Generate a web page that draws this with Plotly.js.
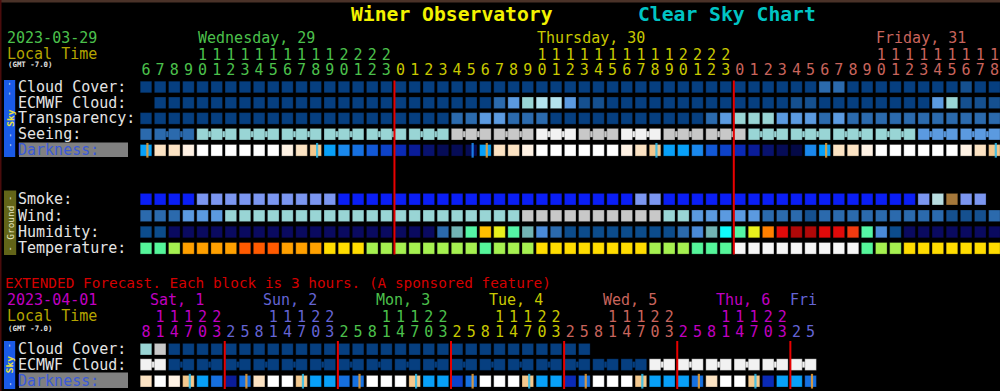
<!DOCTYPE html>
<html><head><meta charset="utf-8">
<script src="https://cdn.plot.ly/plotly-3.0.1.min.js"></script>
<style>html,body{margin:0;padding:0;background:#000;overflow:hidden}#chart{width:1000px;height:391px}</style>
</head><body><div id="chart"></div>
<script>
// ================= DATA =================
const topDays = ["Wednesday, 29", "Thursday, 30", "Friday, 31"];
const topHours = [6,7,8,9,10,11,12,13,14,15,16,17,18,19,20,21,22,23,
  0,1,2,3,4,5,6,7,8,9,10,11,12,13,14,15,16,17,18,19,20,21,22,23,
  0,1,2,3,4,5,6,7,8,9,10,11,12,13,14,15,16,17,18];
// sky levels: 0 clear/dark blue ... 7 white
const cloudCover = [0,0,0,0,0,0,0,0,0,0,0,0,0,0,0,0,0,0,0,0,0,0,0,0,0,0,0,0,0,0,0,0,0,0,0,0,0,0,0,0,0,0,0,0,0,0,0,0,2,2,0,0,0,0,0,0,0,0,1,0,0];
const ecmwfCloud = [null,0,0,0,0,0,0,0,0,0,0,0,0,0,0,0,0,0,0,0,0,0,0,0,0,2,3,4,5,5,3,1,1,0,0,0,0,0,0,0,0,0,0,0,0,0,1,1,0,0,0,0,0,0,0,0,3,4,1,1,1];
const transparency = [0,0,0,0,0,0,0,0,0,0,0,0,0,0,0,0,0,0,0,0,0,0,2,2,3,3,2,2,2,0,0,0,0,0,0,0,0,0,0,0,2,3,4,4,4,3,3,3,2,3,2,2,2,2,2,2,2,2,2,2,2];
const seeing = [2,2,2,2,4,4,4,4,4,4,4,4,4,4,4,4,4,4,4,4,4,4,6,6,6,6,6,6,7,7,7,6,6,6,7,7,7,6,6,6,6,6,6,4,4,4,4,4,4,4,4,4,4,4,4,3,3,3,3,3,3];
// darkness levels: 0 daylight ... 13 darkest
const darkness = [4,2,2,1,0,0,0,0,0,0,1,2,3,4,5,6,7,8,9,10,11,12,12,12,4,2,2,1,0,0,0,0,0,0,1,2,3,4,4,5,7,8,9,10,11,12,13,5,4,2,2,1,0,0,0,0,0,0,1,2,3];
// twilight edge inside a block: 0 none, 1 sunrise, 2 sunset, 3 moon
const darknessEdge = [1,0,0,0,0,0,0,0,0,0,0,0,2,0,0,0,0,0,0,0,0,0,0,3,1,0,0,0,0,0,0,0,0,0,0,0,2,0,0,0,0,0,0,0,0,0,0,0,1,0,0,0,0,0,0,0,0,0,0,0,2];
const smoke = [0,0,0,0,1,1,1,1,1,1,1,1,1,1,0,0,0,0,0,0,0,0,0,0,0,0,0,0,0,0,0,0,0,0,0,1,1,0,0,0,0,0,0,0,0,0,0,0,0,0,0,0,0,0,0,1,2,3,1,1,null];
const wind = [2,2,2,3,3,3,4,4,4,4,4,4,4,4,4,4,4,4,4,4,4,4,4,4,4,4,4,6,6,6,6,6,6,6,6,6,6,4,4,3,3,3,3,3,2,2,2,1,2,2,2,2,2,2,2,2,2,1,1,1,2];
const humidity = [1,1,0,0,0,0,0,0,0,0,0,0,0,0,0,0,0,0,0,0,0,2,4,6,8,7,6,4,3,2,1,1,1,1,1,1,1,1,2,3,4,5,6,7,9,11,12,12,11,11,10,6,3,1,0,0,0,0,0,0,0];
const temperature = [1,1,2,4,4,4,4,5,5,5,4,4,4,3,3,3,2,2,2,2,2,2,2,2,1,2,2,2,3,3,3,3,3,3,3,3,2,2,2,1,1,1,0,0,0,0,0,0,0,0,0,1,2,2,3,3,3,3,3,3,3];

// Extended forecast (3-hour blocks)
const extDays = ["Sat, 1", "Sun, 2", "Mon, 3", "Tue, 4", "Wed, 5", "Thu, 6", "Fri"];
const extHours = [8,11,14,17,20,23,
  2,5,8,11,14,17,20,23, 2,5,8,11,14,17,20,23, 2,5,8,11,14,17,20,23,
  2,5,8,11,14,17,20,23, 2,5,8,11,14,17,20,23, 2,5];
const extCloud = [4,6,0,0,0,0,0,0,0,0,0,0,0,0,0,0,0,0,0,0,0,0,0,0,0,0,0,0,0,0,0,0,null,null,null,null,null,null,null,null,null,null,null,null,null,null,null,null];
const extEcmwf = [7,7,0,0,0,0,0,0,0,0,0,0,0,0,0,0,0,0,0,0,0,0,0,0,0,0,0,0,0,0,0,0,0,0,0,0,7,7,7,7,7,7,7,7,7,7,7,7];
const extDarkness = [2,0,1,3,4,6, 10,6,2,0,0,3,4,4, 6,6,0,0,0,3,4,4, 8,6,0,0,0,3,4,4, 9,6,0,0,0,3,4,4, 4,6,2,0,0,3,9,4, 4,6];
const extDarkEdge = [0,0,0,2,0,0, 0,1,0,0,0,2,0,0, 0,1,0,0,0,2,0,0, 0,1,0,0,0,2,0,0, 0,1,0,0,0,2,0,0, 0,1,0,0,0,2,0,0, 0,1];

// ================= STYLE =================
const PAL_SKY = ["#063f80","#15508f","#2b6aad","#5b9ae0","#99d5d5","#b3e3ee","#c8c8c8","#f2f2f2"];
const PAL_SMOKE = ["#0a1ef5","#7b96f0","#b8dde0","#a5783a"];
const PAL_HUM = ["#0a0a60","#0c4c8c","#2b6aad","#4a8ad8","#72b4b4","#10fafa","#55f5a5","#e8f01c","#ffc000","#ff8000","#f03a10","#e00a0a","#b00808"];
const PAL_TEMP = ["#f6f6f6","#55f59a","#a5f050","#ffdc00","#ffa000","#ff5a00"];
const PAL_DARK = ["#ffffff","#fff2e4","#fce3c3","#f3c88e","#08a0f8","#1a88ec","#1670e0","#1258d6","#0d42c8","#0a2ab6","#0a1c98","#08126e","#060c56","#040946"];
const PAL_EDGE = [null,"#f0a030","#30c0f0","#1e90ff"];
const TOP_DAY_COLORS = ["#4cc04c","#c8c800","#c8645c"];
const EXT_DAY_COLORS = ["#c000c0","#6464d4","#4cc04c","#c8c800","#c8645c","#c000c0","#6464d4"];
const FONT = "DejaVu Sans Mono, Liberation Mono, monospace";
const LABEL_COLOR = "#e4e4e4";

const ROW = {cloud:87, ecmwf:102.8, transp:118.4, seeing:134.2, dark:150.3,
  smoke:199.2, wind:215.8, hum:232, temp:248.3,
  xCloud:349.2, xEcmwf:364.6, xDark:381.2};

// ================= BUILD =================
const traces = [];
function cellTrace(values, y, pal){
  const xs=[], ys=[], cs=[];
  values.forEach((v,i)=>{ if(v===null) return; xs.push(i); ys.push(y); cs.push(pal[v]); });
  return {type:'scatter', mode:'markers', x:xs, y:ys, hoverinfo:'skip',
    marker:{symbol:'square', size:11.6, color:cs, line:{width:1, color:'rgba(0,0,0,0.28)'}}};
}
function connectorTraces(values, y, pal, groupOf){
  const byColor = {};
  for(let i=0;i<values.length-1;i++){
    if(values[i]===null||values[i+1]===null) continue;
    if(groupOf(i)!==groupOf(i+1)) continue;
    const c = pal[values[i]];
    if(!byColor[c]) byColor[c] = {x:[], y:[]};
    byColor[c].x.push(i, i+1, null); byColor[c].y.push(y, y, null);
  }
  return Object.keys(byColor).map(c=>({type:'scatter', mode:'lines', x:byColor[c].x, y:byColor[c].y,
    line:{color:c, width:6}, hoverinfo:'skip', connectgaps:false}));
}
function edgeTrace(edges, y){
  const xs=[], ys=[], cs=[];
  edges.forEach((e,i)=>{ if(!e) return; xs.push(i+0.1); ys.push(y); cs.push(PAL_EDGE[e]); });
  return {type:'scatter', mode:'markers', x:xs, y:ys, hoverinfo:'skip', opacity:0.85,
    marker:{symbol:'line-ns', size:10.5, color:cs, line:{width:2.2, color:cs}}};
}
function dayIndex(hours){
  const d=[]; let k=0;
  hours.forEach((h,i)=>{ if(i>0 && h<hours[i-1]) k++; d.push(k); });
  return d;
}
function hourTextTraces(hours, days, colors, yTens, yOnes){
  const tx=[], ty=[], tt=[], tc=[], ox=[], oy=[], ot=[], oc=[];
  hours.forEach((h,i)=>{
    if(h>=10){ tx.push(i); ty.push(yTens); tt.push(String(Math.floor(h/10))); tc.push(colors[days[i]]); }
    ox.push(i); oy.push(yOnes); ot.push(String(h%10)); oc.push(colors[days[i]]);
  });
  const mk=(x,y,t,c)=>({type:'scatter', mode:'text', x:x, y:y, text:t, textposition:'middle center',
    textfont:{family:FONT, size:15, color:c}, hoverinfo:'skip'});
  return [mk(tx,ty,tt,tc), mk(ox,oy,ot,oc)];
}

// red midnight lines
const topDayIdx = dayIndex(topHours);
const extDayIdx = dayIndex(extHours);
function midnightTrace(dayIdx, y0, y1){
  const xs=[], ys=[];
  dayIdx.forEach((d,i)=>{ if(i>0 && d!==dayIdx[i-1]){ xs.push(i-0.43, i-0.43, null); ys.push(y0, y1, null); } });
  return {type:'scatter', mode:'lines', x:xs, y:ys, line:{color:'#e80000', width:2}, hoverinfo:'skip'};
}

// top sky section
traces.push(cellTrace(cloudCover, ROW.cloud, PAL_SKY));
traces.push(cellTrace(ecmwfCloud, ROW.ecmwf, PAL_SKY));
traces.push(cellTrace(transparency, ROW.transp, PAL_SKY));
connectorTraces(seeing, ROW.seeing, PAL_SKY, i=>Math.floor((i+2)/3)).forEach(t=>traces.push(t));
traces.push(cellTrace(seeing, ROW.seeing, PAL_SKY));
traces.push(cellTrace(darkness, ROW.dark, PAL_DARK));
traces.push(edgeTrace(darknessEdge, ROW.dark));
// ground section
traces.push(cellTrace(smoke, ROW.smoke, PAL_SMOKE));
traces.push(cellTrace(wind, ROW.wind, PAL_SKY));
traces.push(cellTrace(humidity, ROW.hum, PAL_HUM));
traces.push(cellTrace(temperature, ROW.temp, PAL_TEMP));
traces.push(midnightTrace(topDayIdx, 80.5, 254.5));
// extended
traces.push(cellTrace(extCloud, ROW.xCloud, PAL_SKY));
connectorTraces(extEcmwf, ROW.xEcmwf, PAL_SKY, i=>Math.floor(i/2)).forEach(t=>traces.push(t));
traces.push(cellTrace(extEcmwf, ROW.xEcmwf, PAL_SKY));
traces.push(cellTrace(extDarkness, ROW.xDark, PAL_DARK));
traces.push(edgeTrace(extDarkEdge, ROW.xDark));
traces.push(midnightTrace(extDayIdx, 341, 389));
// hour labels
hourTextTraces(topHours, topDayIdx, TOP_DAY_COLORS, 56.3, 71).forEach(t=>traces.push(t));
hourTextTraces(extHours, extDayIdx, EXT_DAY_COLORS, 318.6, 333.4).forEach(t=>traces.push(t));

// annotations
const ann = [];
function A(text, px, py, color, size, extra){
  ann.push(Object.assign({text:text, xref:'paper', yref:'y', x:px/1000, y:py, xanchor:'left', yanchor:'middle',
    showarrow:false, borderpad:0, font:{family:FONT, size:size, color:color}}, extra||{}));
}
A("<b>Winer Observatory</b>", 350, 14.5, "#f2f200", 19.7);
A("<b>Clear Sky Chart</b>", 637, 14.5, "#00c4c4", 19.7);
A("2023-03-29", 6, 38, TOP_DAY_COLORS[0], 15);
A("Local Time", 6, 53.5, "#b4a400", 15);
A("<b>(GMT -7.0)</b>", 7, 64, "#e0e0e0", 7.4);
// top day names: left edge at the 10h column of each day
topDays.forEach((name,k)=>{
  const i = topHours.findIndex((h,j)=>topDayIdx[j]===k && h===10);
  ann.push({text:name, xref:'x', yref:'y', x:i-0.42, y:38, xanchor:'left', yanchor:'middle', showarrow:false, borderpad:0,
    font:{family:FONT, size:15, color:TOP_DAY_COLORS[k]}});
});
const labelsTop = [["Cloud Cover:",ROW.cloud],["ECMWF Cloud:",ROW.ecmwf],["Transparency:",ROW.transp],["Seeing:",ROW.seeing]];
labelsTop.forEach(l=>A(l[0], 17, l[1], LABEL_COLOR, 15));
A("Darkness:", 17, ROW.dark, "#3a5ad8", 15);
[["Smoke:",ROW.smoke],["Wind:",ROW.wind],["Humidity:",ROW.hum],["Temperature:",ROW.temp]].forEach(l=>A(l[0], 17, l[1], LABEL_COLOR, 15));
// extended
A("EXTENDED Forecast. Each block is 3 hours. (A sponsored feature)", 4, 282.5, "#d40000", 14.4);
A("2023-04-01", 6, 299.5, EXT_DAY_COLORS[0], 15);
A("Local Time", 6, 315.5, "#b4a400", 15);
A("<b>(GMT -7.0)</b>", 7, 328.8, "#e0e0e0", 7.4);
extDays.forEach((name,k)=>{
  let i = extHours.findIndex((h,j)=>extDayIdx[j]===k && h===14);
  let xc;
  if(i>=0) xc = i+0.2; else { const idx = extHours.map((h,j)=>j).filter(j=>extDayIdx[j]===k); xc = (idx[0]+idx[idx.length-1])/2; }
  ann.push({text:name, xref:'x', yref:'y', x:xc, y:299.5, xanchor:'center', yanchor:'middle', showarrow:false, borderpad:0,
    font:{family:FONT, size:15, color:EXT_DAY_COLORS[k]}});
});
A("Cloud Cover:", 17, ROW.xCloud, LABEL_COLOR, 15);
A("ECMWF Cloud:", 17, ROW.xEcmwf, LABEL_COLOR, 15);
A("Darkness:", 17, ROW.xDark, "#3a5ad8", 15);
// side bars text
function V(text, px, py, color, size){
  ann.push({text:text, xref:'paper', yref:'y', x:px/1000, y:py, xanchor:'center', yanchor:'middle', textangle:-90,
    showarrow:false, borderpad:0, font:{family:FONT, size:size, color:color}});
}
V("<b>Sky</b>", 9.8, 118, "#e8e040", 9.5); V("- -", 9.5, 89.5, "#f0f0f0", 8); V("- -", 9.5, 141, "#f0f0f0", 8);
V("Ground", 10.3, 222.5, "#e8e8c0", 9.5); V("-", 10.3, 198.5, "#f0f0f0", 8); V("-", 10.3, 249, "#f0f0f0", 8);
V("<b>Sky</b>", 9.8, 364.5, "#e8e040", 9.5); V("-", 9.5, 345.5, "#f0f0f0", 8); V("-", 9.5, 384, "#f0f0f0", 8);

const shapes = [
  {type:'rect', xref:'paper', yref:'y', x0:0, x1:1, y0:0, y1:2.5, fillcolor:'#4a3228', line:{width:0}, layer:'below'},
  {type:'rect', xref:'paper', yref:'y', x0:0, x1:0.0015, y0:0, y1:391, fillcolor:'#4a0c0c', line:{width:0}, layer:'below'},
  {type:'rect', xref:'paper', yref:'y', x0:0.004, x1:0.0152, y0:80, y1:157, fillcolor:'#1a5ae6', line:{width:0}, layer:'below'},
  {type:'rect', xref:'paper', yref:'y', x0:0.004, x1:0.0162, y0:190.5, y1:255, fillcolor:'#626418', line:{width:0}, layer:'below'},
  {type:'rect', xref:'paper', yref:'y', x0:0.004, x1:0.0152, y0:341, y1:389, fillcolor:'#1a5ae6', line:{width:0}, layer:'below'},
  {type:'rect', xref:'paper', yref:'y', x0:0.019, x1:0.128, y0:142.5, y1:157, fillcolor:'#808080', line:{width:0}, layer:'below'},
  {type:'rect', xref:'paper', yref:'y', x0:0.019, x1:0.128, y0:372.5, y1:388, fillcolor:'#808080', line:{width:0}, layer:'below'}
];

const layout = {
  width:1000, height:391, margin:{l:0,r:0,t:0,b:0,pad:0},
  paper_bgcolor:'#000', plot_bgcolor:'#000', showlegend:false,
  xaxis:{range:[-146/14.14, (1000-146)/14.14], visible:false, fixedrange:true},
  yaxis:{range:[391,0], visible:false, fixedrange:true},
  annotations:ann, shapes:shapes, hovermode:false
};
Plotly.newPlot('chart', traces, layout, {staticPlot:true, displayModeBar:false});
</script>
</body></html>
